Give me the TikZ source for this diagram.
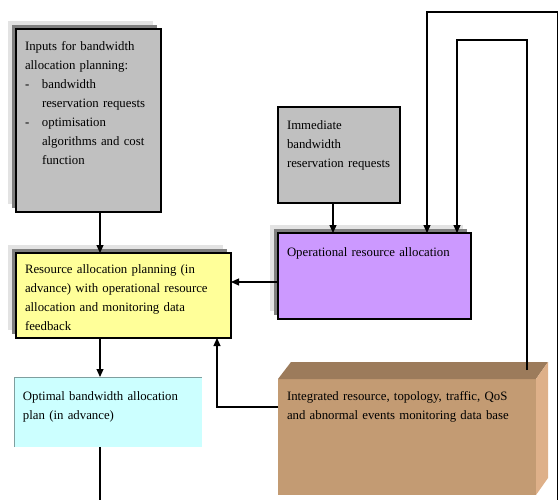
\documentclass[tikz,border=0pt]{standalone}
\usepackage{fontspec}
\setmainfont{Liberation Serif}
\usetikzlibrary{arrows.meta}
\definecolor{boxgray}{HTML}{C0C0C0}
\definecolor{shadowlight}{HTML}{E3E3E3}
\definecolor{shadowdark}{HTML}{808080}
\definecolor{opfill}{HTML}{CC99FF}
\definecolor{planfill}{HTML}{FFFF99}
\definecolor{optfill}{HTML}{CCFFFF}
\definecolor{optedge}{HTML}{7F9F9F}
\definecolor{dbfront}{HTML}{C39B73}
\definecolor{dbtop}{HTML}{9C7B5B}
\definecolor{dbside}{HTML}{DEB089}
\begin{document}
\begin{tikzpicture}[x=1pt,y=-1pt,
    box/.style={anchor=north west, align=left, inner xsep=9pt, inner ysep=0pt, outer sep=0pt, font=\fontsize{12.8pt}{19pt}\selectfont},
    framed/.style={box, draw, line width=1.3pt, preaction={fill=shadowlight, transform canvas={shift={(-8pt,8pt)}}}, preaction={fill=shadowdark, transform canvas={shift={(-4pt,4pt)}}}},
    arr/.style={line width=1.2pt, -{Triangle[length=8pt,width=7pt]}}]
  \useasboundingbox (0,0) rectangle (559,500);
  \node[framed, fill=boxgray, text width=127pt, text height=22pt, text depth=161pt] (inputs) at (16,29)
    {Inputs for bandwidth\\allocation planning:\\\makebox[17pt][l]{-}bandwidth\\\hspace*{17pt}reservation requests\\\makebox[17pt][l]{-}optimisation\\\hspace*{17pt}algorithms and cost\\\hspace*{17pt}function};
  \node[box, draw, line width=1.3pt, fill=boxgray, text width=104pt, text height=22pt, text depth=74pt] (immediate) at (278,107)
    {Immediate\\bandwidth\\reservation requests};
  \node[framed, fill=opfill, text width=175pt, text height=23pt, text depth=63pt] (operational) at (278,233)
    {Operational resource allocation};
  \node[framed, fill=planfill, text width=197pt, text height=20pt, text depth=65pt] (planning) at (16,253)
    {Resource allocation planning (in\\advance) with operational resource\\allocation and monitoring data\\feedback};
  \node[box, fill=optfill, text width=170pt, text height=23pt, text depth=47pt] (optimal) at (14,377)
    {Optimal bandwidth allocation\\plan (in advance)};
  \draw[optedge, line width=0.8pt] (optimal.south west) -- (optimal.north west) -- (optimal.north east);
  \node[box, fill=dbfront, text width=240pt, text height=21pt, text depth=95pt] (database) at (278,379)
    {Integrated resource, topology, traffic, QoS\\and abnormal events monitoring data base};
  \fill[dbtop] (database.north west) -- ++(13,-17) -- ++(257,0) -- (database.north east) -- cycle;
  \fill[dbside] (database.north east) -- ++(12,-17) -- ++(0,116) -- (database.south east) -- cycle;
  \coordinate (spine) at (100,500);
  \coordinate (feed) at (557.5,500);
  \draw[arr] (inputs.south -| spine) -- (planning.north -| spine);
  \draw[arr] (planning.south -| spine) -- (optimal.north -| spine);
  \draw[line width=1.2pt] (optimal.south -| spine) -- (spine);
  \draw[arr] ([xshift=-6pt]immediate.south) -- ([xshift=-6pt]immediate.south |- operational.north);
  \draw[arr] ([yshift=-6pt]operational.west) -- ([yshift=-6pt]operational.west -| planning.east);
  \draw[arr] ([yshift=30pt]database.west) -| ([xshift=-14pt]planning.south east);
  \draw[arr] ([shift={(-9pt,9pt)}]database.north east) -- ++(0,-330) -| ([xshift=-14pt]operational.north east);
  \draw[arr] (feed) -- ++(0,-488) -| ([xshift=-44pt]operational.north east);
\end{tikzpicture}
\end{document}
